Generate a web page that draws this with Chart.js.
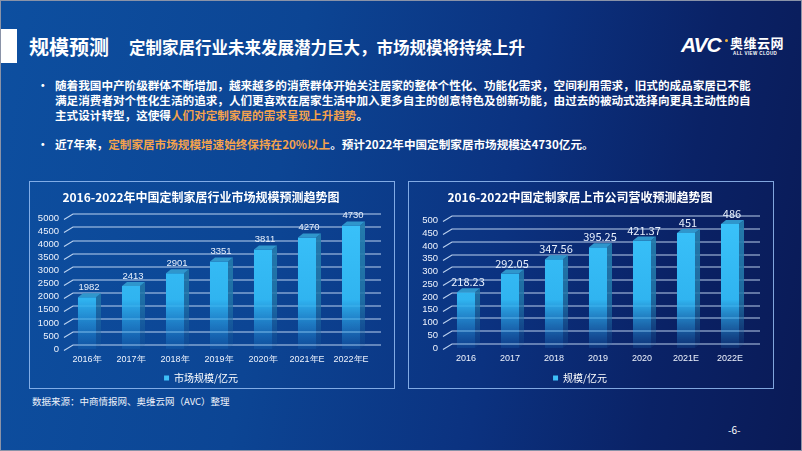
<!DOCTYPE html>
<html>
<head>
<meta charset="utf-8">
<script src="https://cdn.jsdelivr.net/npm/chart.js@4.4.1/dist/chart.umd.min.js"></script>
<style>
  html, body { margin: 0; padding: 0; }
  body { width: 802px; height: 451px; overflow: hidden; font-family: "Noto Sans CJK SC", "Noto Sans", sans-serif; }
  #slide {
    position: relative; width: 802px; height: 451px; box-sizing: border-box;
    border: 1px solid #8a93a8;
    background: linear-gradient(100deg, #0d4fa0 0%, #0c4594 35%, #0b3280 62%, #0a2266 82%, #0a1a56 100%);
    color: #fff; overflow: hidden;
  }
  .abs { position: absolute; white-space: nowrap; }
  #mark { left: 0; top: 28px; width: 16px; height: 34px; background: #fff; }
  #head { left: 28px; top: 31px; font-size: 20px; font-weight: 700; line-height: 30px; }
  #sub { left: 128px; top: 33px; font-size: 16.5px; font-weight: 700; line-height: 26px; }
  #logo { left: 680px; top: 32px; }
  #avc { left: 0; top: 0; font: italic 700 21px "Liberation Sans", Arial, sans-serif; letter-spacing: -1px; line-height: 24px; }
  #dot { left: 44px; top: 6px; width: 3px; height: 3px; border-radius: 2px; background: #f3b23a; }
  #avy { left: 49px; top: 2px; font-size: 13px; font-weight: 700; line-height: 16px; letter-spacing: 0.5px; }
  #avs { left: 52px; top: 18px; font: 700 4.5px "Liberation Sans", Arial, sans-serif; letter-spacing: 0.4px; }
  .bul { left: 36px; font-size: 11.6px; font-weight: 700; line-height: 15px; }
  .bul .d { position: absolute; left: 0; top: 0; }
  .bul .t { position: absolute; left: 18px; top: 0; }
  .hl { color: #f4a24c; }
  .panel { position: absolute; top: 180px; height: 208px; border: 1px solid rgba(150,190,245,0.85); box-sizing: border-box; }
  canvas { position: absolute; }
  #foot { left: 31px; top: 393px; font-size: 9.5px; line-height: 14px; color: #eef2fb; }
  #page { left: 727px; top: 422px; font-size: 10px; line-height: 14px; }
</style>
</head>
<body>
<div id="slide">
  <div class="abs" id="mark"></div>
  <div class="abs" id="head">规模预测</div>
  <div class="abs" id="sub">定制家居行业未来发展潜力巨大，市场规模将持续上升</div>
  <div class="abs" id="logo">
    <div class="abs" id="avc">AVC</div>
    <div class="abs" id="dot"></div>
    <div class="abs" id="avy">奥维云网</div>
    <div class="abs" id="avs">ALL VIEW CLOUD</div>
  </div>

  <div class="abs bul" style="top:77px">
    <span class="d">•</span>
    <span class="t">随着我国中产阶级群体不断增加，越来越多的消费群体开始关注居家的整体个性化、功能化需求，空间利用需求，旧式的成品家居已不能<br>满足消费者对个性化生活的追求，人们更喜欢在居家生活中加入更多自主的创意特色及创新功能，由过去的被动式选择向更具主动性的自<br>主式设计转型，这使得<span class="hl">人们对定制家居的需求呈现上升趋势</span>。</span>
  </div>
  <div class="abs bul" style="top:136px">
    <span class="d">•</span>
    <span class="t">近7年来，<span class="hl">定制家居市场规模增速始终保持在20%以上</span>。预计2022年中国定制家居市场规模达4730亿元。</span>
  </div>

  <div class="panel" style="left:28px;width:366px"></div>
  <div class="panel" style="left:407px;width:366px"></div>
  <canvas id="c1" width="366" height="212" style="left:28px;top:180px"></canvas>
  <canvas id="c2" width="366" height="212" style="left:407px;top:180px"></canvas>

  <div class="abs" id="foot">数据来源：中商情报网、奥维云网（AVC）整理</div>
  <div class="abs" id="page">-6-</div>
</div>

<script>
// chart data
const marketYears = ['2016年', '2017年', '2018年', '2019年', '2020年', '2021年E', '2022年E'];
const marketSize = [1982, 2413, 2901, 3351, 3811, 4270, 4730];
const marketTicks = [0, 500, 1000, 1500, 2000, 2500, 3000, 3500, 4000, 4500, 5000];

const revenueYears = ['2016', '2017', '2018', '2019', '2020', '2021E', '2022E'];
const revenue = [218.23, 292.05, 347.56, 395.25, 421.37, 451, 486];
const revenueTicks = [0, 50, 100, 150, 200, 250, 300, 350, 400, 450, 500];

const SIDE = 5;   // depth of the fake 3d side
const LIFT = 4;   // how far the back wall sits above the value
const BAR_BLUE = '#3ec0f8';

// fading fill, same for every bar in a chart
function fade(ctx, area, top, mid, bottom) {
    const g = ctx.createLinearGradient(0, area.top, 0, area.bottom);
    g.addColorStop(0, top);
    g.addColorStop(0.62, mid);
    g.addColorStop(1, bottom);
    return g;
}

// grid lines with the little slanted floor piece, then side/top faces and labels
const bar3d = {
    id: 'bar3d',
    beforeDatasetsDraw(chart) {
        const { ctx, chartArea } = chart;
        const y = chart.scales.y;
        ctx.save();
        ctx.strokeStyle = 'rgba(205,225,250,0.9)';
        ctx.lineWidth = 1.2;
        y.ticks.forEach(t => {
            const py = Math.round(y.getPixelForValue(t.value));
            ctx.beginPath();
            ctx.moveTo(chartArea.left - 1, py + 1.5);
            ctx.lineTo(chartArea.left + 8, py - LIFT);
            ctx.lineTo(chartArea.right + 8, py - LIFT);
            ctx.stroke();
        });
        ctx.restore();
    },
    afterDatasetsDraw(chart, args, opts) {
        const { ctx, chartArea } = chart;
        const meta = chart.getDatasetMeta(0);
        const values = chart.data.datasets[0].data;
        ctx.save();
        meta.data.forEach((bar, i) => {
            const half = bar.width / 2;
            const l = bar.x - half, r = bar.x + half;
            // side face
            ctx.fillStyle = fade(ctx, chartArea, 'rgba(38,128,176,0.95)', 'rgba(34,118,168,0.85)', 'rgba(30,100,160,0.1)');
            ctx.beginPath();
            ctx.moveTo(r, bar.y);
            ctx.lineTo(r + SIDE, bar.y - LIFT);
            ctx.lineTo(r + SIDE, bar.base - LIFT);
            ctx.lineTo(r, bar.base);
            ctx.closePath();
            ctx.fill();
            // top face
            ctx.fillStyle = '#2f96cc';
            ctx.beginPath();
            ctx.moveTo(l, bar.y);
            ctx.lineTo(l + SIDE, bar.y - LIFT);
            ctx.lineTo(r + SIDE, bar.y - LIFT);
            ctx.lineTo(r, bar.y);
            ctx.closePath();
            ctx.fill();
            // value
            ctx.fillStyle = '#e9f1fd';
            ctx.font = opts.font;
            ctx.textAlign = 'center';
            ctx.textBaseline = 'middle';
            ctx.fillText(opts.format(values[i]), bar.x + 2, bar.y - LIFT - 6);
        });
        ctx.restore();
    }
};

function makeChart(id, labels, values, ticks, title, legend, valueFont, format, titleGap, axisH) {
    const el = document.getElementById(id);
    return new Chart(el.getContext('2d'), {
        type: 'bar',
        data: {
            labels: labels,
            datasets: [{
                label: legend,
                data: values,
                backgroundColor: c => {
                    const a = c.chart.chartArea;
                    if (!a) return BAR_BLUE;
                    return fade(c.chart.ctx, a, '#3ac2fa', '#30b4f0', 'rgba(40,150,225,0.12)');
                },
                barPercentage: 0.41,
                categoryPercentage: 1
            }]
        },
        options: {
            responsive: false,
            animation: false,
            layout: { padding: { left: 0, right: 22, top: 0, bottom: 0 } },
            plugins: {
                title: {
                    display: true,
                    text: title,
                    color: '#ffffff',
                    font: { family: 'Noto Sans CJK SC', size: 12, weight: 'bold' },
                    padding: { top: 9, bottom: titleGap }
                },
                legend: {
                    position: 'bottom',
                    labels: {
                        color: '#ffffff',
                        font: { family: 'Noto Sans CJK SC', size: 10 },
                        boxWidth: 5,
                        boxHeight: 5,
                        padding: 6,
                        generateLabels: chart => Chart.defaults.plugins.legend.labels.generateLabels(chart)
                            .map(l => Object.assign(l, { fillStyle: BAR_BLUE, strokeStyle: BAR_BLUE, lineWidth: 0 }))
                    }
                },
                tooltip: { enabled: false },
                bar3d: { font: valueFont, format: format }
            },
            scales: {
                x: {
                    grid: { display: false, drawTicks: false },
                    border: { display: false },
                    ticks: {
                        color: '#eef3fd',
                        font: { family: 'Liberation Sans', size: 9 },
                        padding: 5,
                        maxRotation: 0,
                        autoSkip: false
                    },
                    afterFit: s => { s.height = axisH; }
                },
                y: {
                    min: ticks[0],
                    max: ticks[ticks.length - 1],
                    afterBuildTicks: s => { s.ticks = ticks.map(v => ({ value: v })); },
                    grid: { display: false, drawTicks: false },
                    border: { display: false },
                    ticks: {
                        color: '#eef3fd',
                        font: { family: 'Liberation Sans', size: 9.5 },
                        padding: 6,
                        autoSkip: false,
                        callback: v => String(v)
                    },
                    afterFit: s => { s.width = 36; }
                }
            }
        },
        plugins: [bar3d]
    });
}

makeChart('c1', marketYears, marketSize, marketTicks,
    '2016-2022年中国定制家居行业市场规模预测趋势图', '市场规模/亿元',
    '9.5px "Liberation Sans"', v => String(v), 14, 18);

makeChart('c2', revenueYears, revenue, revenueTicks,
    '2016-2022中国定制家居上市公司营收预测趋势图', '规模/亿元',
    '11px "Noto Sans CJK SC"', v => String(v), 16, 19);
</script>
</body>
</html>
